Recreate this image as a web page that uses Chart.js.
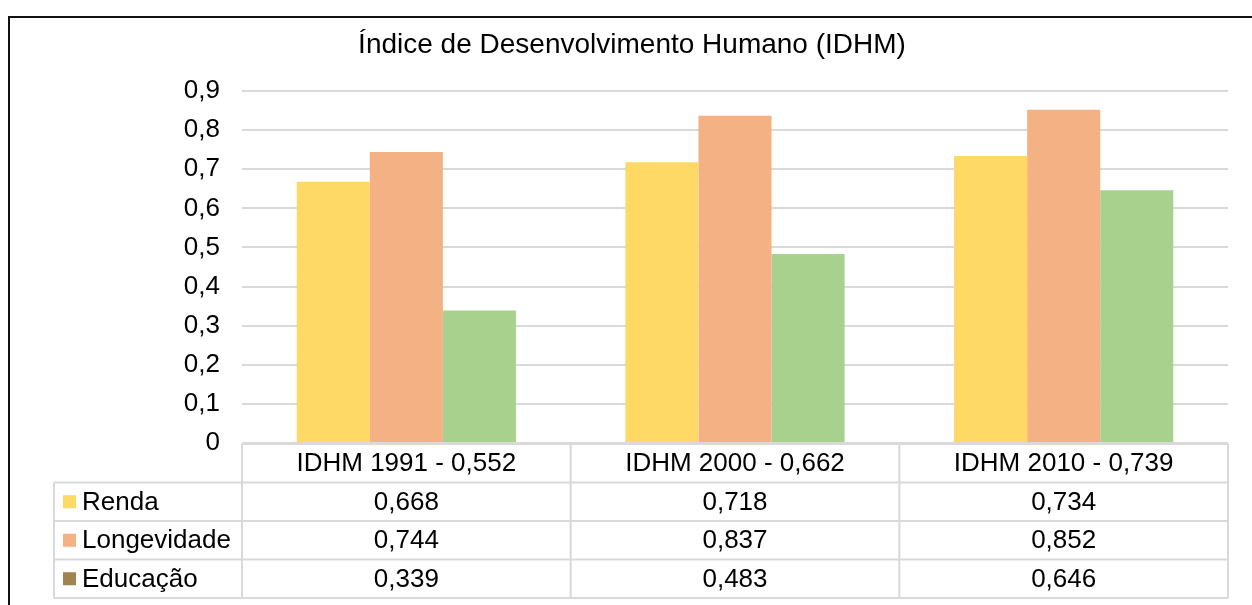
<!DOCTYPE html>
<html>
<head>
<meta charset="utf-8">
<script src="https://cdn.jsdelivr.net/npm/chart.js@4/dist/chart.umd.min.js"></script>
<style>
  html, body { margin: 0; padding: 0; background: #fff; }
  #wrap { position: relative; width: 1252px; height: 605px; overflow: hidden; }
  #frame { position: absolute; left: 8px; top: 16px; width: 1300px; height: 700px; border-left: 2px solid #111; border-top: 2px solid #111; box-sizing: border-box; }
  canvas { position: absolute; left: 0; top: 0; }
</style>
</head>
<body>
<div id="wrap">
  <div id="frame"></div>
  <canvas id="c" width="1252" height="605"></canvas>
</div>
<script>
const categories = ['IDHM 1991 - 0,552', 'IDHM 2000 - 0,662', 'IDHM 2010 - 0,739'];
const seriesNames = ['Renda', 'Longevidade', 'Educação'];
const renda = [0.668, 0.718, 0.734];
const longevidade = [0.744, 0.837, 0.852];
const educacao = [0.339, 0.483, 0.646];
const yTicks = [0, 0.1, 0.2, 0.3, 0.4, 0.5, 0.6, 0.7, 0.8, 0.9];
const barColors = ['#FFD966', '#F4B183', '#A9D18E'];
const legendColors = ['#FFD966', '#F4B183', '#A1834F'];
const titleText = 'Índice de Desenvolvimento Humano (IDHM)';

const FONT = '"Liberation Sans", Arial, sans-serif';
const fmt = v => v === 0 ? '0' : v.toFixed(1).replace('.', ',');
const fmt3 = v => v.toFixed(3).replace('.', ',');

const tablePlugin = {
  id: 'tablePlugin',
  afterDraw(chart) {
    const ctx = chart.ctx;
    const area = chart.chartArea;
    const x = chart.scales.x;
    const left = area.left, right = area.right;
    const legendLeft = 54;
    const top = area.bottom + 1;
    const rowH = 38.5;
    const series = [renda, longevidade, educacao];
    ctx.save();
    // title
    ctx.fillStyle = '#000';
    ctx.font = '28px ' + FONT;
    ctx.textAlign = 'center';
    ctx.textBaseline = 'middle';
    ctx.fillText(titleText, 632, 45);

    ctx.strokeStyle = '#d9d9d9';
    ctx.lineWidth = 2;
    const bottom = top + rowH * 4;
    ctx.beginPath();
    ctx.moveTo(left, top); ctx.lineTo(right, top);
    for (let r = 1; r <= 4; r++) {
      ctx.moveTo(legendLeft, top + rowH * r); ctx.lineTo(right, top + rowH * r);
    }
    ctx.moveTo(left, top); ctx.lineTo(left, bottom);
    ctx.moveTo(legendLeft, top + rowH); ctx.lineTo(legendLeft, bottom);
    const n = categories.length;
    const cw = (right - left) / n;
    for (let i = 1; i <= n; i++) {
      ctx.moveTo(left + cw * i, top); ctx.lineTo(left + cw * i, bottom);
    }
    ctx.stroke();

    ctx.fillStyle = '#000';
    ctx.font = '26px ' + FONT;
    ctx.textAlign = 'center';
    ctx.textBaseline = 'middle';
    categories.forEach((c, i) => {
      const cx = x.getPixelForValue(i);
      ctx.fillText(c, cx, top + rowH / 2 + 1);
      series.forEach((s, r) => {
        ctx.fillText(fmt3(s[i]), cx, top + rowH * (r + 1) + rowH / 2 + 1);
      });
    });
    ctx.textAlign = 'left';
    seriesNames.forEach((name, r) => {
      const cy = top + rowH * (r + 1) + rowH / 2;
      ctx.fillStyle = legendColors[r];
      ctx.fillRect(63, cy - 6.5, 13, 13);
      ctx.fillStyle = '#000';
      ctx.fillText(name, 82, cy + 1);
    });
    ctx.restore();
  }
};

new Chart(document.getElementById('c'), {
  type: 'bar',
  data: {
    labels: categories,
    datasets: [
      { label: seriesNames[0], data: renda, backgroundColor: barColors[0] },
      { label: seriesNames[1], data: longevidade, backgroundColor: barColors[1] },
      { label: seriesNames[2], data: educacao, backgroundColor: barColors[2] }
    ]
  },
  options: {
    responsive: false,
    animation: false,
    devicePixelRatio: 1,
    layout: { padding: { top: 91, bottom: 162, left: 0, right: 24 } },
    datasets: { bar: { barPercentage: 1, categoryPercentage: 0.667 } },
    plugins: { legend: { display: false }, title: { display: false }, tooltip: { enabled: false } },
    scales: {
      x: { display: false },
      y: {
        min: 0, max: 0.9,
        afterFit(s) { s.width = 242; },
        afterBuildTicks(s) { s.ticks = yTicks.map(v => ({ value: v })); },
        ticks: { callback: v => fmt(v), font: { family: FONT, size: 26 }, color: '#000', padding: 22 },
        grid: { color: '#d9d9d9', lineWidth: 2, drawTicks: false },
        border: { display: false }
      }
    }
  },
  plugins: [tablePlugin]
});
</script>
</body>
</html>
